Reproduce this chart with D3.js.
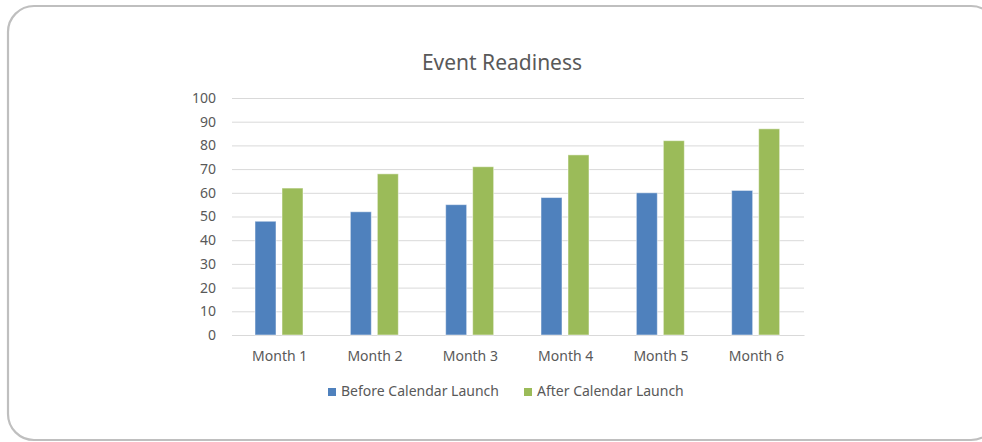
<!DOCTYPE html>
<html><head><meta charset="utf-8">
<script src="https://cdn.jsdelivr.net/npm/d3@7"></script>
<style>body{margin:0;background:#fff}svg{display:block}</style>
</head><body>
<svg id="c" width="982" height="442"></svg>
<script>
const categories = ["Month 1","Month 2","Month 3","Month 4","Month 5","Month 6"];
const seriesNames = ["Before Calendar Launch","After Calendar Launch"];
const beforeValues = [48,52,55,58,60,61];
const afterValues = [62,68,71,76,82,87];
const yTicks = [0,10,20,30,40,50,60,70,80,90,100];
const colors = ["#4f81bd","#9bbb59"];
const title = "Event Readiness";

(function(){
const svg = d3.select("#c");
const font = "'Noto Sans', 'Open Sans', sans-serif";
svg.append("rect").attr("x",8).attr("y",6).attr("width",989).attr("height",434)
  .attr("rx",26).attr("fill","#fff").attr("stroke","#bfbfbf").attr("stroke-width",2.2);

const pL=232,pR=804,pT=98,pB=335;
const x = d3.scaleBand().domain(categories).range([pL,pR]).paddingInner(0).paddingOuter(0);
const y = d3.scaleLinear().domain([0,100]).range([pB,pT]);
const x1 = d3.scaleBand().domain([0,1]).range([23,23+48]).paddingInner(6/27);

svg.append("text").attr("x",502).attr("y",70).attr("text-anchor","middle")
  .attr("font-family",font).attr("font-size",21).attr("fill","#595959").text(title);

const ya = svg.append("g").attr("transform",`translate(${pL},0)`)
  .call(d3.axisLeft(y).tickValues(yTicks).tickSize(-(pR-pL)).tickPadding(16));
ya.select(".domain").remove();
ya.selectAll("line").attr("stroke","#d9d9d9").attr("stroke-width",1);
ya.selectAll("text").attr("font-family",font).attr("font-size",14).attr("fill","#595959");

const xa = svg.append("g").attr("transform",`translate(0,${pB})`)
  .call(d3.axisBottom(x).tickSize(0).tickPadding(0));
xa.select(".domain").attr("stroke","#d9d9d9");
xa.selectAll("text").attr("font-family",font).attr("font-size",14).attr("fill","#595959")
  .attr("dy",null).attr("y",26);

const data = [beforeValues, afterValues];
data.forEach((vals,si)=>{
  svg.append("g").selectAll("rect").data(vals).join("rect")
    .attr("x",(d,i)=>x(categories[i])+x1(si))
    .attr("width",x1.bandwidth())
    .attr("y",d=>y(d)).attr("height",d=>y(0)-y(d))
    .attr("fill",colors[si]).attr("stroke","#fff").attr("stroke-opacity",0.5).attr("stroke-width",1);
});

const lg = [{x:328,t:seriesNames[0],c:colors[0]},{x:524,t:seriesNames[1],c:colors[1]}];
lg.forEach(l=>{
  svg.append("rect").attr("x",l.x).attr("y",388).attr("width",8).attr("height",8).attr("fill",l.c);
  svg.append("text").attr("x",l.x+13).attr("y",396).attr("font-family",font).attr("font-size",14)
    .attr("fill","#595959").text(l.t);
});
})();
</script>
</body></html>
